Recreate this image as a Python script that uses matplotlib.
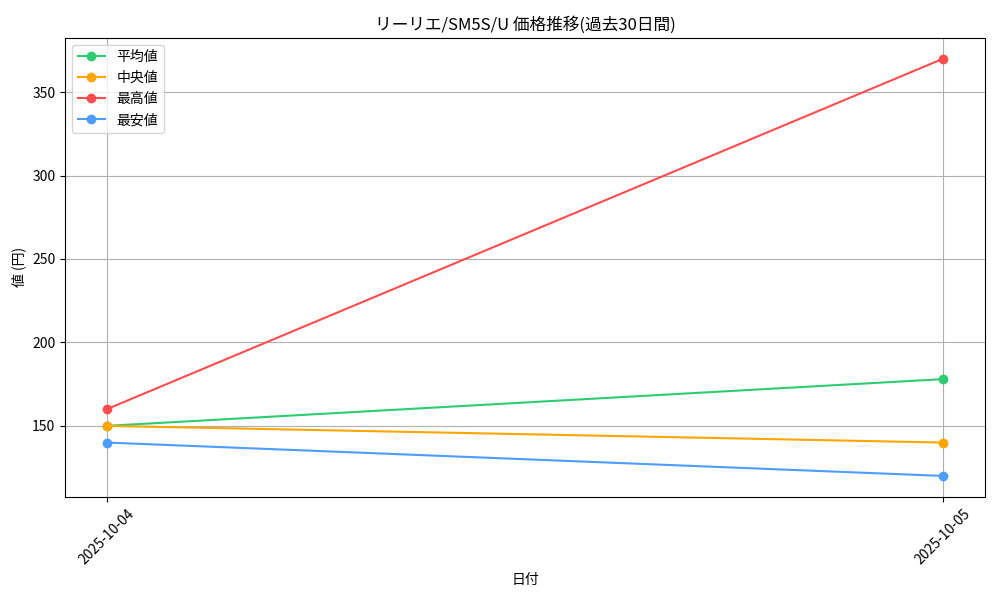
import matplotlib
matplotlib.use("Agg")
import matplotlib.pyplot as plt

plt.rcParams['font.family'] = ['Noto Sans CJK JP', 'DejaVu Sans']

dates = ["2025-10-04", "2025-10-05"]
avg = [150, 178]
median = [150, 140]
high = [160, 370]
low = [140, 120]

fig, ax = plt.subplots(figsize=(10, 6), dpi=100)
x = list(range(len(dates)))
ax.plot(x, avg, marker='o', color='#2ecc71', label='平均値')
ax.plot(x, median, marker='o', color='#ffa500', label='中央値')
ax.plot(x, high, marker='o', color='#ff4d4d', label='最高値')
ax.plot(x, low, marker='o', color='#4d9dff', label='最安値')
ax.set_xticks(x)
ax.set_xticklabels(dates, rotation=45)
ax.set_title('リーリエ/SM5S/U 価格推移(過去30日間)')
ax.set_xlabel('日付')
ax.set_ylabel('値 (円)')
ax.grid(True)
ax.legend(loc='upper left')
fig.subplots_adjust(left=0.065, right=0.985, top=0.937, bottom=0.172)
fig.savefig('out.png')
